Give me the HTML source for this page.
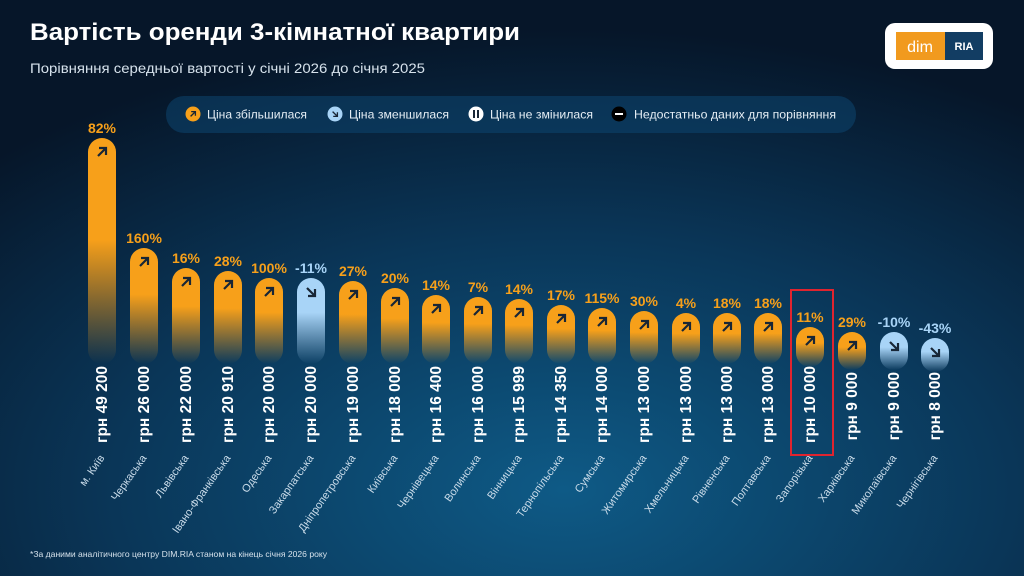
<!DOCTYPE html>
<html><head><meta charset="utf-8"><style>
html,body{margin:0;padding:0;width:1024px;height:576px;overflow:hidden;background:#061a2e}
svg{display:block}
text{font-family:"Liberation Sans","DejaVu Sans",sans-serif}
</style></head><body>
<svg width="1024" height="576" viewBox="0 0 1024 576" xmlns="http://www.w3.org/2000/svg">
<defs>
<radialGradient id="bg" cx="0.55" cy="0.85" r="0.8">
<stop offset="0" stop-color="#0e5a86"/><stop offset="0.55" stop-color="#0a3658"/><stop offset="1" stop-color="#061629"/>
</radialGradient>
<linearGradient id="gO" x1="0" y1="0" x2="0" y2="1"><stop offset="0" stop-color="#f7a01a"/><stop offset="0.4" stop-color="#f7a01a"/><stop offset="1" stop-color="#f7a01a" stop-opacity="0"/></linearGradient>
<linearGradient id="gK" x1="0" y1="0" x2="0" y2="1"><stop offset="0" stop-color="#f7a01a"/><stop offset="0.45" stop-color="#f7a01a"/><stop offset="1" stop-color="#f7a01a" stop-opacity="0"/></linearGradient>
<linearGradient id="gB" x1="0" y1="0" x2="0" y2="1"><stop offset="0" stop-color="#a8d4f7"/><stop offset="0.4" stop-color="#a8d4f7"/><stop offset="1" stop-color="#a8d4f7" stop-opacity="0"/></linearGradient>
<g id="up"><path d="M-4 4 L4 -4 M-3 -4 H4 V3" stroke="#182636" stroke-width="2.2" fill="none"/></g>
<g id="dn"><path d="M-4 -4 L4 4 M-3 4 H4 V-3" stroke="#182636" stroke-width="2.2" fill="none"/></g>
</defs>
<rect width="1024" height="576" fill="url(#bg)"/>
<text x="30" y="40" font-size="24.5" font-weight="bold" fill="#fff" textLength="490" lengthAdjust="spacingAndGlyphs">Вартість оренди 3-кімнатної квартири</text>
<text x="30" y="73" font-size="14" fill="#d6e2ec" textLength="395" lengthAdjust="spacingAndGlyphs">Порівняння середньої вартості у січні 2026 до січня 2025</text>
<rect x="885" y="23" width="108" height="46" rx="10" fill="#fff"/>
<rect x="896" y="32" width="49" height="28" fill="#f19a1e"/>
<text x="920" y="52" font-size="16" fill="#fff" text-anchor="middle">dim</text>
<rect x="945" y="32" width="38" height="28" fill="#123d63"/>
<text x="964" y="50" font-size="11" font-weight="bold" fill="#fff" text-anchor="middle" font-family="Liberation Serif,serif">RIA</text>
<rect x="166" y="96" width="690" height="37" rx="18" fill="#0d4670" fill-opacity="0.55"/>
<circle cx="193" cy="114" r="7.5" fill="#f7a01a"/><use href="#up" transform="translate(193,114) scale(0.6)"/>
<text x="207" y="118.5" font-size="12" fill="#e4edf4" textLength="100" lengthAdjust="spacingAndGlyphs">Ціна збільшилася</text>
<circle cx="335" cy="114" r="7.5" fill="#a8d4f7"/><use href="#dn" transform="translate(335,114) scale(0.6)"/>
<text x="349" y="118.5" font-size="12" fill="#e4edf4" textLength="100" lengthAdjust="spacingAndGlyphs">Ціна зменшилася</text>
<circle cx="476" cy="114" r="7.5" fill="#fff"/><rect x="473" y="110" width="2" height="8" fill="#182636"/><rect x="477" y="110" width="2" height="8" fill="#182636"/>
<text x="490" y="118.5" font-size="12" fill="#e4edf4" textLength="103" lengthAdjust="spacingAndGlyphs">Ціна не змінилася</text>
<circle cx="619" cy="114" r="7.5" fill="#000"/><rect x="615" y="113" width="8" height="2" fill="#fff"/>
<text x="634" y="118.5" font-size="12" fill="#e4edf4" textLength="202" lengthAdjust="spacingAndGlyphs">Недостатньо даних для порівняння</text>

<g font-weight="bold" font-size="14" text-anchor="middle">
<rect x="88" y="138" width="28" height="226" rx="14" fill="url(#gK)"/><use href="#up" transform="translate(102,152)"/><text x="102" y="133" fill="#f7a01a">82%</text>
<rect x="130" y="248" width="28" height="116" rx="14" fill="url(#gO)"/><use href="#up" transform="translate(144,262)"/><text x="144" y="243" fill="#f7a01a">160%</text>
<rect x="172" y="268" width="28" height="96" rx="14" fill="url(#gO)"/><use href="#up" transform="translate(186,282)"/><text x="186" y="263" fill="#f7a01a">16%</text>
<rect x="214" y="271" width="28" height="93" rx="14" fill="url(#gO)"/><use href="#up" transform="translate(228,285)"/><text x="228" y="266" fill="#f7a01a">28%</text>
<rect x="255" y="278" width="28" height="86" rx="14" fill="url(#gO)"/><use href="#up" transform="translate(269,292)"/><text x="269" y="273" fill="#f7a01a">100%</text>
<rect x="297" y="278" width="28" height="86" rx="14" fill="url(#gB)"/><use href="#dn" transform="translate(311,292)"/><text x="311" y="273" fill="#a8d4f7">-11%</text>
<rect x="339" y="281" width="28" height="83" rx="14" fill="url(#gO)"/><use href="#up" transform="translate(353,295)"/><text x="353" y="276" fill="#f7a01a">27%</text>
<rect x="381" y="288" width="28" height="76" rx="14" fill="url(#gO)"/><use href="#up" transform="translate(395,302)"/><text x="395" y="283" fill="#f7a01a">20%</text>
<rect x="422" y="295" width="28" height="69" rx="14" fill="url(#gO)"/><use href="#up" transform="translate(436,309)"/><text x="436" y="290" fill="#f7a01a">14%</text>
<rect x="464" y="297" width="28" height="67" rx="14" fill="url(#gO)"/><use href="#up" transform="translate(478,311)"/><text x="478" y="292" fill="#f7a01a">7%</text>
<rect x="505" y="299" width="28" height="65" rx="14" fill="url(#gO)"/><use href="#up" transform="translate(519,313)"/><text x="519" y="294" fill="#f7a01a">14%</text>
<rect x="547" y="305" width="28" height="59" rx="14" fill="url(#gO)"/><use href="#up" transform="translate(561,319)"/><text x="561" y="300" fill="#f7a01a">17%</text>
<rect x="588" y="308" width="28" height="56" rx="14" fill="url(#gO)"/><use href="#up" transform="translate(602,322)"/><text x="602" y="303" fill="#f7a01a">115%</text>
<rect x="630" y="311" width="28" height="53" rx="14" fill="url(#gO)"/><use href="#up" transform="translate(644,325)"/><text x="644" y="306" fill="#f7a01a">30%</text>
<rect x="672" y="313" width="28" height="51" rx="14" fill="url(#gO)"/><use href="#up" transform="translate(686,327)"/><text x="686" y="308" fill="#f7a01a">4%</text>
<rect x="713" y="313" width="28" height="51" rx="14" fill="url(#gO)"/><use href="#up" transform="translate(727,327)"/><text x="727" y="308" fill="#f7a01a">18%</text>
<rect x="754" y="313" width="28" height="51" rx="14" fill="url(#gO)"/><use href="#up" transform="translate(768,327)"/><text x="768" y="308" fill="#f7a01a">18%</text>
<rect x="796" y="327" width="28" height="40" rx="14" fill="url(#gO)"/><use href="#up" transform="translate(810,341)"/><text x="810" y="322" fill="#f7a01a">11%</text>
<rect x="838" y="332" width="28" height="38" rx="14" fill="url(#gO)"/><use href="#up" transform="translate(852,346)"/><text x="852" y="327" fill="#f7a01a">29%</text>
<rect x="880" y="332" width="28" height="38" rx="14" fill="url(#gB)"/><use href="#dn" transform="translate(894,346)"/><text x="894" y="327" fill="#a8d4f7">-10%</text>
<rect x="921" y="338" width="28" height="34" rx="14" fill="url(#gB)"/><use href="#dn" transform="translate(935,352)"/><text x="935" y="333" fill="#a8d4f7">-43%</text>
</g>

<g font-weight="bold" font-size="15.5" fill="#fff" text-anchor="end">
<text transform="translate(107,366) rotate(-90)">грн 49 200</text>
<text transform="translate(149,366) rotate(-90)">грн 26 000</text>
<text transform="translate(191,366) rotate(-90)">грн 22 000</text>
<text transform="translate(233,366) rotate(-90)">грн 20 910</text>
<text transform="translate(274,366) rotate(-90)">грн 20 000</text>
<text transform="translate(316,366) rotate(-90)">грн 20 000</text>
<text transform="translate(358,366) rotate(-90)">грн 19 000</text>
<text transform="translate(400,366) rotate(-90)">грн 18 000</text>
<text transform="translate(441,366) rotate(-90)">грн 16 400</text>
<text transform="translate(483,366) rotate(-90)">грн 16 000</text>
<text transform="translate(524,366) rotate(-90)">грн 15 999</text>
<text transform="translate(566,366) rotate(-90)">грн 14 350</text>
<text transform="translate(607,366) rotate(-90)">грн 14 000</text>
<text transform="translate(649,366) rotate(-90)">грн 13 000</text>
<text transform="translate(691,366) rotate(-90)">грн 13 000</text>
<text transform="translate(732,366) rotate(-90)">грн 13 000</text>
<text transform="translate(773,366) rotate(-90)">грн 13 000</text>
<text transform="translate(815,366) rotate(-90)">грн 10 000</text>
<text transform="translate(857,372) rotate(-90)">грн 9 000</text>
<text transform="translate(899,372) rotate(-90)">грн 9 000</text>
<text transform="translate(940,372) rotate(-90)">грн 8 000</text>
</g>

<g font-size="11" fill="#c9dbe9" text-anchor="end">
<text transform="translate(105,458) rotate(-55)">м. Київ</text>
<text transform="translate(147,458) rotate(-55)">Черкаська</text>
<text transform="translate(189,458) rotate(-55)">Львівська</text>
<text transform="translate(231,458) rotate(-55)">Івано-Франківська</text>
<text transform="translate(272,458) rotate(-55)">Одеська</text>
<text transform="translate(314,458) rotate(-55)">Закарпатська</text>
<text transform="translate(356,458) rotate(-55)">Дніпропетровська</text>
<text transform="translate(398,458) rotate(-55)">Київська</text>
<text transform="translate(439,458) rotate(-55)">Чернівецька</text>
<text transform="translate(481,458) rotate(-55)">Волинська</text>
<text transform="translate(522,458) rotate(-55)">Вінницька</text>
<text transform="translate(564,458) rotate(-55)">Тернопільська</text>
<text transform="translate(605,458) rotate(-55)">Сумська</text>
<text transform="translate(647,458) rotate(-55)">Житомирська</text>
<text transform="translate(689,458) rotate(-55)">Хмельницька</text>
<text transform="translate(730,458) rotate(-55)">Рівненська</text>
<text transform="translate(771,458) rotate(-55)">Полтавська</text>
<text transform="translate(813,458) rotate(-55)">Запорізька</text>
<text transform="translate(855,458) rotate(-55)">Харківська</text>
<text transform="translate(897,458) rotate(-55)">Миколаївська</text>
<text transform="translate(938,458) rotate(-55)">Чернігівська</text>
</g>

<rect x="791" y="290" width="42" height="165" fill="none" stroke="#e0242f" stroke-width="2"/>
<text x="30" y="557" font-size="8.5" fill="#d6e2ec" textLength="297" lengthAdjust="spacingAndGlyphs">*За даними аналітичного центру DIM.RIA станом на кінець січня 2026 року</text>
</svg>
</body></html>
